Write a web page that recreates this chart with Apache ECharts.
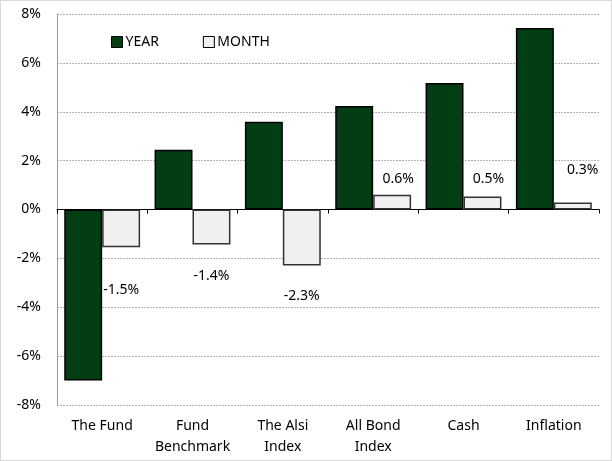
<!DOCTYPE html>
<html>
<head>
<meta charset="utf-8">
<script src="https://cdn.jsdelivr.net/npm/echarts@6/dist/echarts.min.js"></script>
<style>
  html, body { margin: 0; padding: 0; background: #fff; }
  #chart { width: 612px; height: 461px; box-sizing: border-box; border: 1px solid #d9d9d9; }
</style>
</head>
<body>
<div id="chart"></div>
<script>
// 数据
const categories = ['The Fund', 'Fund\nBenchmark', 'The Alsi\nIndex', 'All Bond\nIndex', 'Cash', 'Inflation']
const yearValues = [-7.0, 2.45, 3.59, 4.24, 5.18, 7.43]
const monthValues = [-1.54, -1.43, -2.29, 0.6, 0.53, 0.29]

// label offsets for MONTH labels (placed by hand in the original)
const monthLabelOffsets = [[0, 31], [0, 20], [0, 19], [6, -4], [6, -6], [10, -20]]

const font = 'Noto Sans'
const chart = echarts.init(document.getElementById('chart'))

const options = {
  backgroundColor: '#fff',
  animation: false,
  textStyle: { fontFamily: font },
  legend: {
    left: 105,
    top: 29,
    icon: 'rect',
    itemWidth: 11,
    itemHeight: 11,
    itemGap: 44,
    textStyle: { fontSize: 14, color: '#000', fontFamily: font, padding: [0, 0, 0, -2] },
    data: [
      { name: 'YEAR', itemStyle: { color: '#033d14', borderColor: '#000', borderWidth: 1 } },
      { name: 'MONTH', itemStyle: { color: '#f0f0f0', borderColor: '#000', borderWidth: 1 } }
    ]
  },
  grid: { left: 56, right: 12, top: 13, bottom: 55 },
  xAxis: [
    {
      type: 'category',
      data: categories,
      axisLine: { onZero: true, lineStyle: { color: '#000', width: 1 } },
      axisTick: { show: true, length: 4, lineStyle: { color: '#000' } },
      axisLabel: { show: false },
      splitLine: { show: false }
    },
    {
      type: 'category',
      data: categories,
      position: 'bottom',
      axisLine: { show: false, onZero: false },
      axisTick: { show: false },
      axisLabel: {
        color: '#000',
        fontSize: 14,
        margin: 11,
        lineHeight: 21,
        interval: 0,
        fontFamily: font
      }
    }
  ],
  yAxis: {
    type: 'value',
    min: -8,
    max: 8,
    interval: 2,
    axisLine: { show: true, lineStyle: { color: '#999' } },
    axisTick: { show: false },
    axisLabel: {
      formatter: '{value}%',
      color: '#000',
      fontSize: 14,
      margin: 16,
      fontFamily: font
    },
    splitLine: { show: true, lineStyle: { color: '#b5b5b5', type: [2, 1], width: 1 } }
  },
  series: [
    {
      name: 'YEAR',
      type: 'bar',
      xAxisIndex: 0,
      barGap: '0%',
      barCategoryGap: '16%',
      itemStyle: { color: '#033d14', borderColor: '#000', borderWidth: 1.5 },
      data: yearValues
    },
    {
      name: 'MONTH',
      type: 'bar',
      xAxisIndex: 0,
      barGap: '0%',
      barCategoryGap: '16%',
      itemStyle: { color: '#f0f0f0', borderColor: '#333', borderWidth: 1.5 },
      label: {
        show: true,
        position: 'outside',
        color: '#000',
        fontSize: 14,
        fontFamily: font,
        formatter: function (p) {
          return p.value.toFixed(1) + '%'
        }
      },
      data: monthValues.map(function (v, i) {
        return { value: v, label: { offset: monthLabelOffsets[i] } }
      })
    }
  ]
}

chart.setOption(options)
</script>
</body>
</html>
